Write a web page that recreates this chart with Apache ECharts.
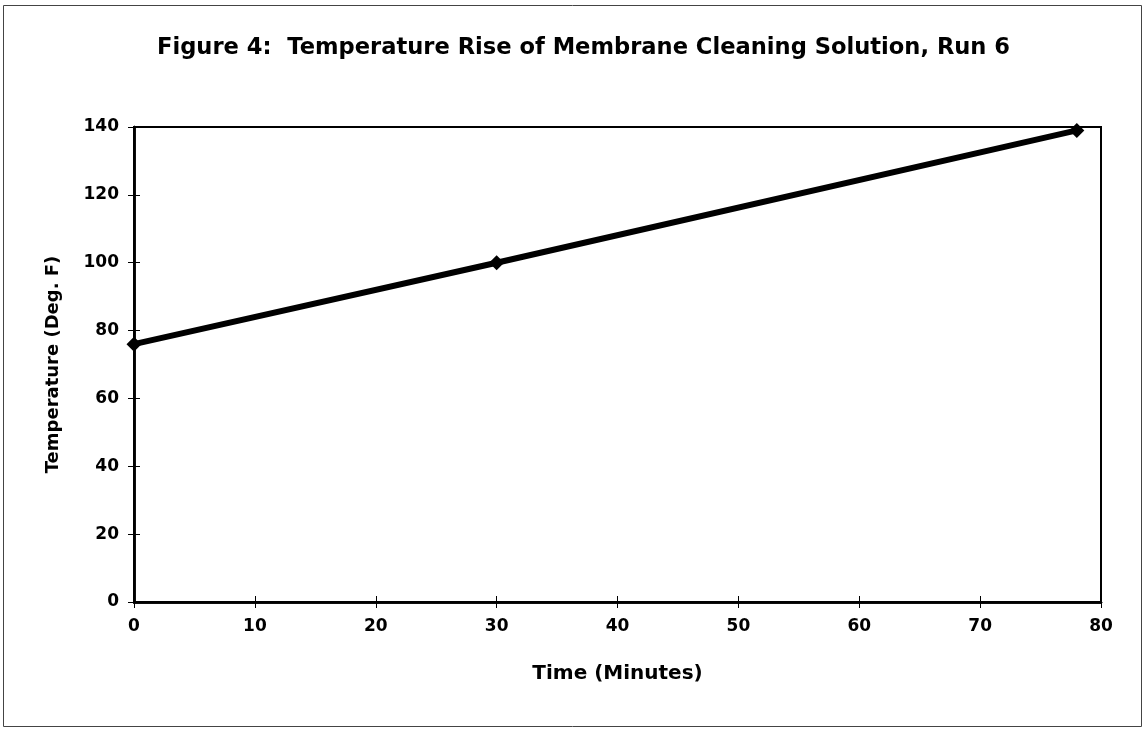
<!DOCTYPE html>
<html><head><meta charset="utf-8">
<script src="https://cdn.jsdelivr.net/npm/echarts@6/dist/echarts.min.js"></script>
<style>html,body{margin:0;padding:0;background:#fff}#c{width:1145px;height:730px}</style>
</head><body><div id="c"></div>
<script>
var times = [0, 30, 78];
var temps = [76, 100, 139];
var xTicks = {min: 0, max: 80, interval: 10};
var yTicks = {min: 0, max: 140, interval: 20};
var titleText = 'Figure 4:  Temperature Rise of Membrane Cleaning Solution, Run 6';
var xName = 'Time (Minutes)';
var yName = 'Temperature (Deg. F)';

var chart = echarts.init(document.getElementById('c'));
var font = 'DejaVu Sans, Liberation Sans, Arial, sans-serif';
var axisBase = function(t, isX, inside, showLabel){
  return {
    type: 'value', min: t.min, max: t.max, interval: t.interval,
    position: isX ? 'bottom' : 'left',
    axisLine: {show: true, onZero: false, lineStyle: {color: '#000', width: 2.5}},
    axisTick: {show: true, inside: inside, length: 6, lineStyle: {color: '#000', width: 1}},
    axisLabel: {show: showLabel, color: '#000', fontFamily: font, fontWeight: 'bold', fontSize: 17,
      margin: isX ? 16 : 15, padding: isX ? 0 : [0, 0, 11, 0]},
    splitLine: {show: false}
  };
};
var x1 = axisBase(xTicks, true, false, true);
x1.name = xName; x1.nameLocation = 'middle'; x1.nameGap = 62;
x1.nameTextStyle = {color: '#000', fontFamily: font, fontWeight: 'bold', fontSize: 20};
var x2 = axisBase(xTicks, true, true, false);
var y1 = axisBase(yTicks, false, false, true);
y1.name = yName; y1.nameLocation = 'middle'; y1.nameGap = 72;
y1.nameTextStyle = {color: '#000', fontFamily: font, fontWeight: 'bold', fontSize: 18};
var y2 = axisBase(yTicks, false, true, false);

chart.setOption({
  animation: false,
  backgroundColor: '#fff',
  title: {text: titleText, left: 152, top: 32,
    textStyle: {color: '#000', fontFamily: font, fontWeight: 'bold', fontSize: 22.6}},
  grid: {left: 134, right: 44, top: 127, height: 475, show: true, borderColor: '#000', borderWidth: 2, backgroundColor: '#fff'},
  xAxis: [x1, x2],
  yAxis: [y1, y2],
  graphic: [{type: 'rect', shape: {x: 3.5, y: 5.5, width: 1138, height: 721},
    style: {fill: 'none', stroke: '#444', lineWidth: 1}, silent: true, z: -1}],
  series: [{
    type: 'line',
    data: times.map(function(t, i){ return [t, temps[i]]; }),
    lineStyle: {color: '#000', width: 6},
    itemStyle: {color: '#000'},
    symbol: 'diamond', symbolSize: 15,
    showSymbol: true
  }]
});
</script></body></html>
